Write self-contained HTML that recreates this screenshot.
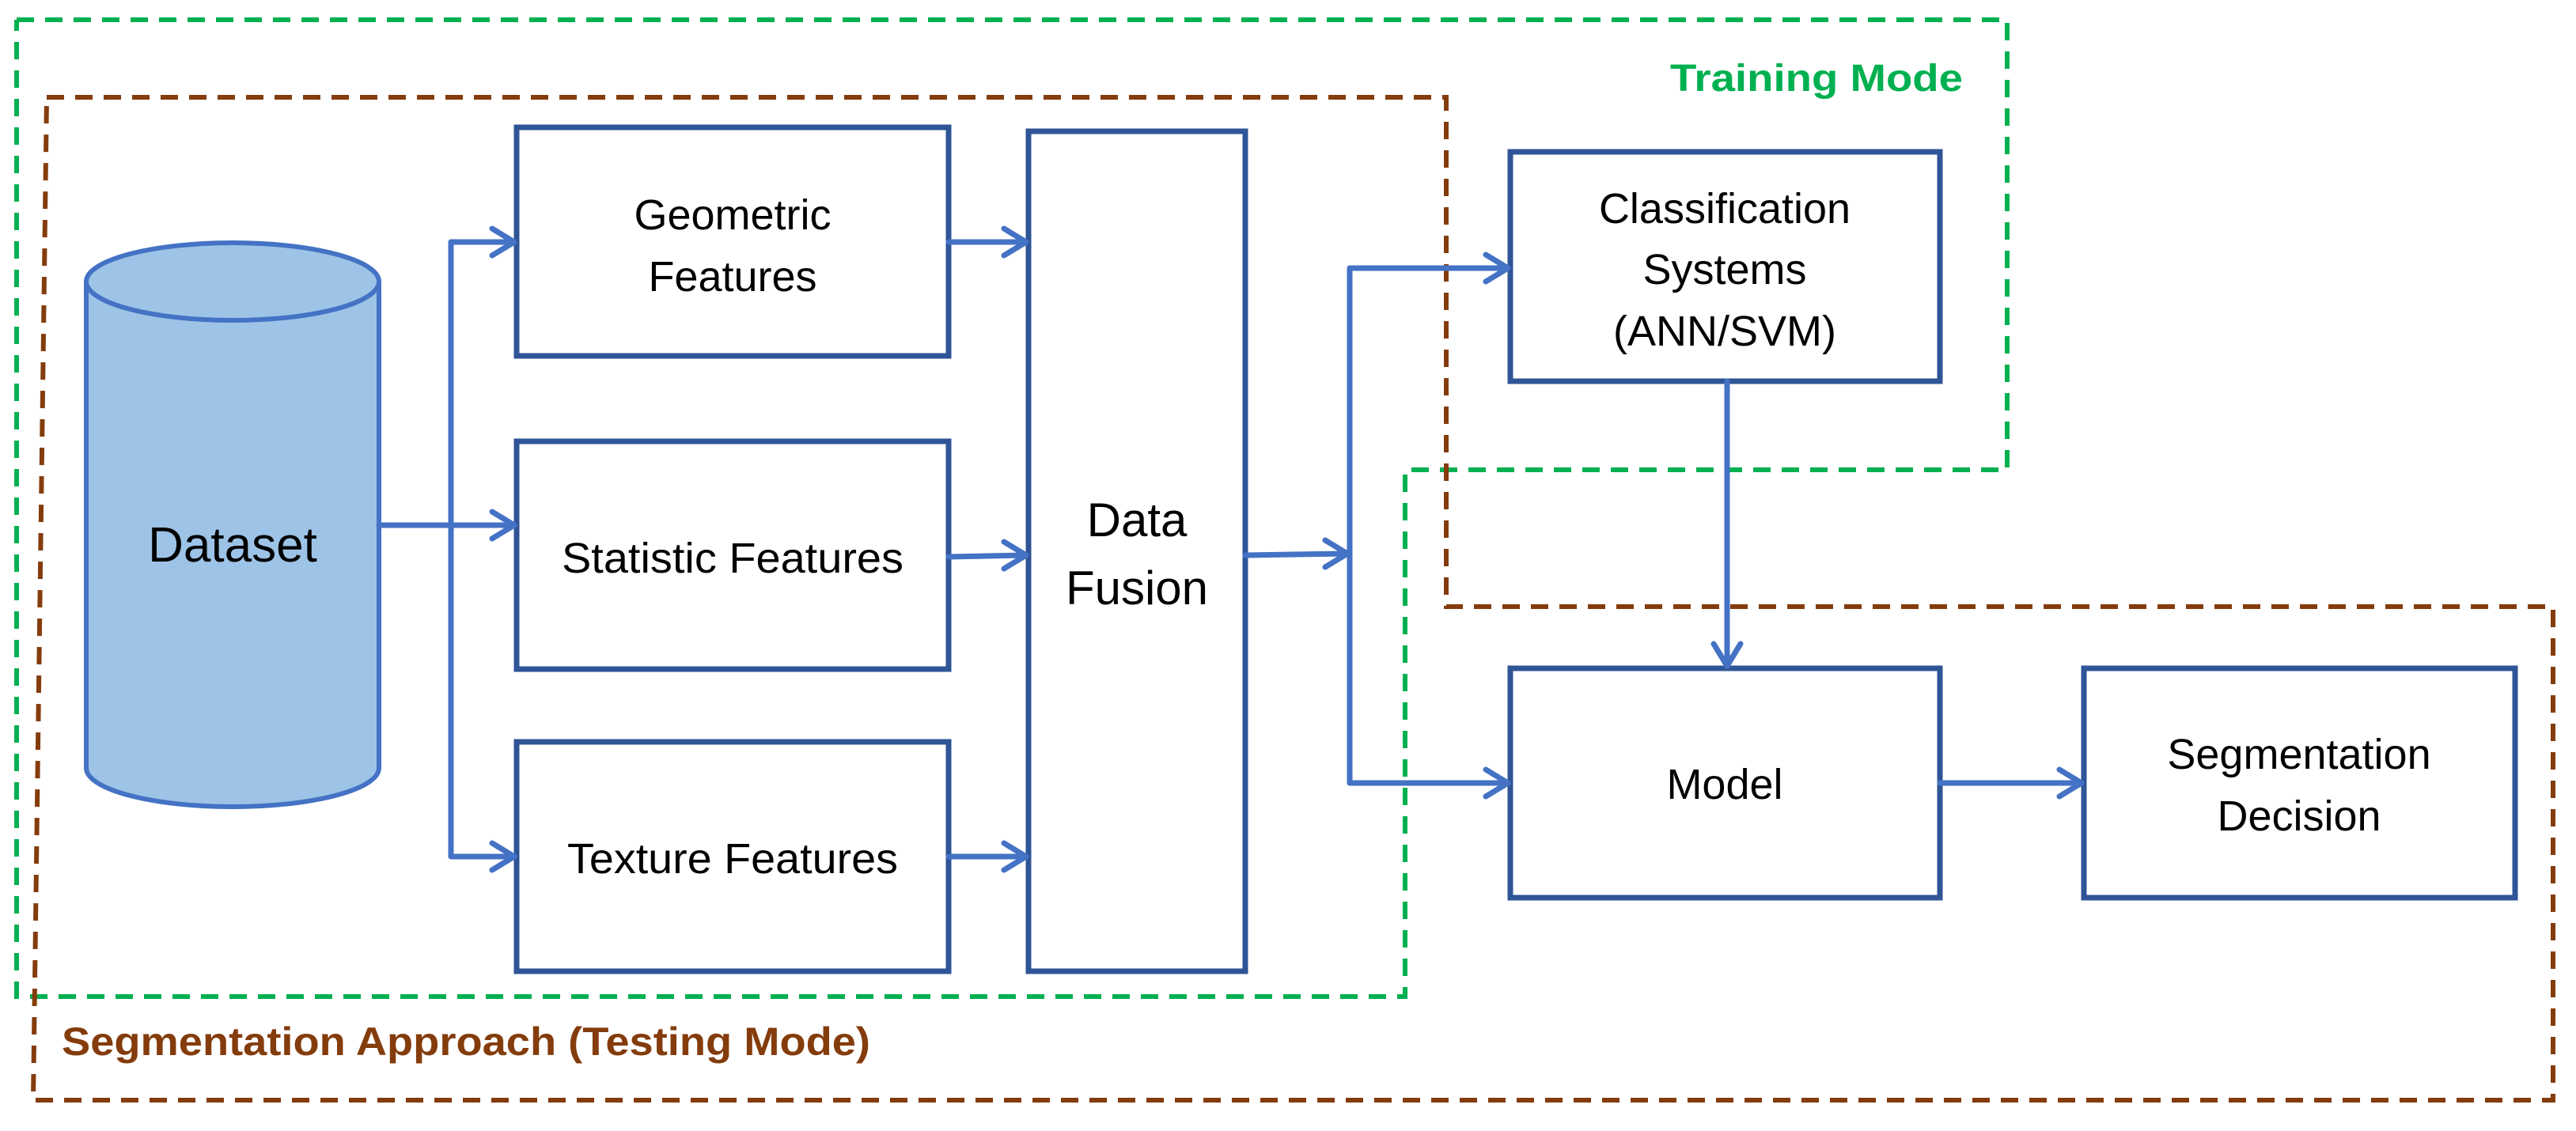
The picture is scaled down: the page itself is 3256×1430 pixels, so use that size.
<!DOCTYPE html>
<html><head><meta charset="utf-8"><style>
html,body{margin:0;padding:0;background:#fff;}
svg{display:block;}
text{font-family:"Liberation Sans",sans-serif;fill:#000;}
</style></head><body>
<svg width="3256" height="1430" viewBox="0 0 3256 1430" xmlns="http://www.w3.org/2000/svg">
<!-- dashed regions -->
<polyline points="21,25 2537,25 2537,594 1776,594 1776,1260 21,1260 21,25" fill="none" stroke="#00B050" stroke-width="6" stroke-dasharray="22,14"/>
<polyline points="59,123 1828,123 1828,767 3227,767 3227,1391 42,1391 59,123" fill="none" stroke="#843C0C" stroke-width="6" stroke-dasharray="22,14"/>
<text x="2481" y="115" text-anchor="end" font-size="48" font-weight="bold" style="fill:#00B050" textLength="370" lengthAdjust="spacingAndGlyphs">Training Mode</text>
<text x="78" y="1334" font-size="50" font-weight="bold" style="fill:#843C0C" textLength="1022" lengthAdjust="spacingAndGlyphs">Segmentation Approach (Testing Mode)</text>

<!-- cylinder -->
<path d="M109,356 L109,971 A185,49 0 0 0 479,971 L479,356" fill="#9DC3E6" stroke="#4472C4" stroke-width="6"/>
<ellipse cx="294" cy="356" rx="185" ry="49" fill="#9DC3E6" stroke="#4472C4" stroke-width="6"/>
<text x="294" y="710" text-anchor="middle" font-size="62">Dataset</text>

<!-- boxes -->
<g fill="#fff" stroke="#2F5597" stroke-width="7">
<rect x="653" y="161" width="546" height="289"/>
<rect x="653" y="558" width="546" height="288"/>
<rect x="653" y="938" width="546" height="290"/>
<rect x="1300" y="166" width="274" height="1062"/>
<rect x="1909" y="192" width="543" height="290"/>
<rect x="1909" y="845" width="543" height="290"/>
<rect x="2634" y="845" width="545" height="290"/>
</g>
<g font-size="54" text-anchor="middle">
<text x="926" y="290">Geometric</text>
<text x="926" y="368">Features</text>
<text x="926" y="724" textLength="432" lengthAdjust="spacingAndGlyphs">Statistic Features</text>
<text x="926" y="1104" textLength="418" lengthAdjust="spacingAndGlyphs">Texture Features</text>
<text x="1437" y="678" font-size="60">Data</text>
<text x="1437" y="764" font-size="60">Fusion</text>
<text x="2180" y="282">Classification</text>
<text x="2180" y="359">Systems</text>
<text x="2180" y="437">(ANN/SVM)</text>
<text x="2180" y="1010">Model</text>
<text x="2906" y="972">Segmentation</text>
<text x="2906" y="1050">Decision</text>
</g>

<!-- connectors -->
<g fill="none" stroke="#4472C4" stroke-width="7" stroke-linecap="round" stroke-linejoin="round">
<line x1="479" y1="664" x2="650" y2="664"/>
<polyline points="650,306 570,306 570,1083 650,1083"/>
<line x1="1199" y1="306" x2="1297" y2="306"/>
<line x1="1199" y1="704" x2="1297" y2="702"/>
<line x1="1199" y1="1083" x2="1297" y2="1083"/>
<line x1="1574" y1="702" x2="1703" y2="700"/>
<polyline points="1906,339 1706,339 1706,990 1906,990"/>
<line x1="2183" y1="482" x2="2183" y2="842"/>
<line x1="2452" y1="990" x2="2631" y2="990"/>
<!-- arrowheads -->
<polyline points="622,289 650,306 622,323"/>
<polyline points="622,647 650,664 622,681"/>
<polyline points="622,1066 650,1083 622,1100"/>
<polyline points="1269,289 1297,306 1269,323"/>
<polyline points="1269,685 1297,702 1269,719"/>
<polyline points="1269,1066 1297,1083 1269,1100"/>
<polyline points="1675,683 1703,700 1675,717"/>
<polyline points="1878,322 1906,339 1878,356"/>
<polyline points="1878,973 1906,990 1878,1007"/>
<polyline points="2166,814 2183,842 2200,814"/>
<polyline points="2603,973 2631,990 2603,1007"/>
</g>
</svg>
</body></html>
